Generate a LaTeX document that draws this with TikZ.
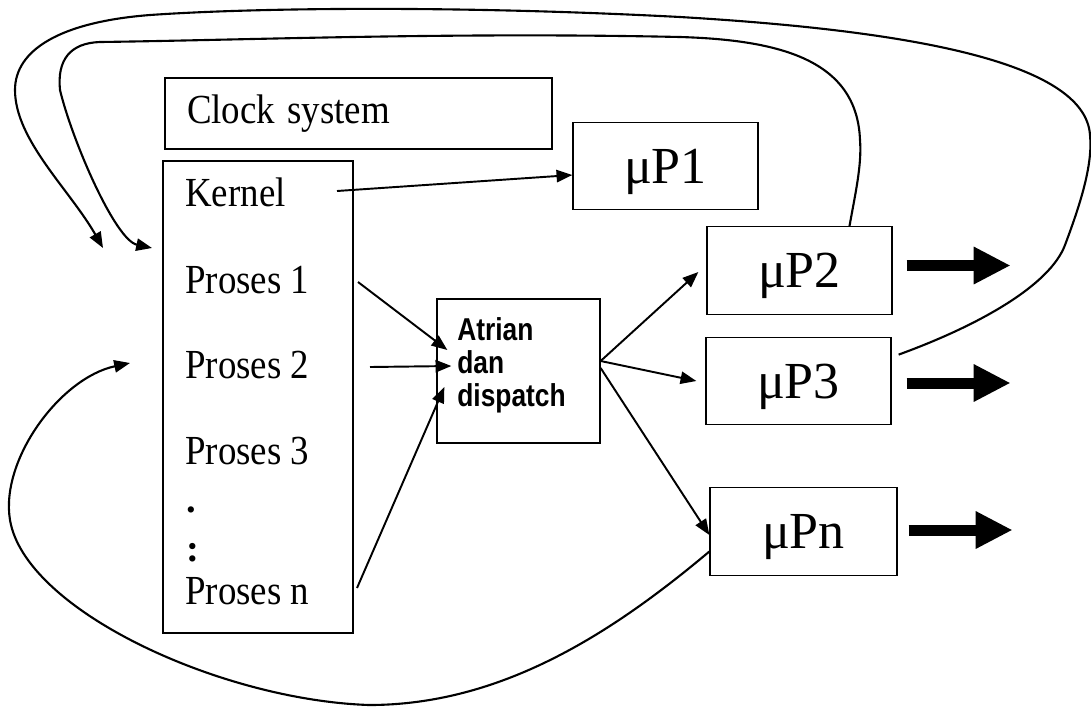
\documentclass[tikz,border=0pt]{standalone}
\usepackage{fontspec}
\setmainfont{Liberation Serif}
\newfontfamily\arialfont{Liberation Sans}
\usetikzlibrary{arrows.meta}
\newcommand{\tall}[1]{\scalebox{1}[1.12]{#1}}
\newcommand{\taller}[1]{\scalebox{1}[1.2]{#1}}
\tikzset{
  box/.style={draw,line width=0.75pt,inner sep=0pt},
  cpu/.style={box,minimum width=3.7cm,minimum height=1.75cm,text depth=0pt,
    font=\fontsize{29.6}{32}\selectfont},
  item/.style={anchor=base west,inner sep=0pt,font=\fontsize{21}{24}\selectfont},
  endtip/.style={-{Triangle[length=9pt,width=7pt]}},
  flow/.style={endtip,line width=1.1pt},
  loopline/.style={line width=1.2pt},
  fat/.style={-{Triangle[length=0.74cm,width=0.7cm]},line width=0.22cm}
}

\begin{document}
\begin{tikzpicture}[x=0.02cm,y=-0.02cm]
\useasboundingbox (0,0) rectangle (1091,707);

% Clock and kernel column
\node[box,text width=6.86cm,inner xsep=0.44cm,minimum height=1.42cm,align=left,
  font=\fontsize{21}{24}\selectfont] (clock) at (358.5,113.5) {\tall{Clock system}};
\node[box,minimum width=3.8cm,minimum height=9.44cm] (os) at (258,397) {};
\node[item] (kernel) at (185,206) {\tall{Kernel}};
\node[item] (p1) at (185,293) {\tall{Proses 1}};
\node[item] (p2) at (185,378) {\tall{Proses 2}};
\node[item] (p3) at (185,464) {\tall{Proses 3}};
\node[item,font=\fontsize{22}{24}\selectfont\bfseries] (dot) at (186,512) {.};
\node[item,font=\fontsize{22}{24}\selectfont\bfseries] (dots) at (186,561) {:};
\node[item] (pn) at (185,604) {\tall{Proses n}};

% Scheduler
\node[box,minimum width=3.26cm,minimum height=2.88cm] (sched) at (518.5,371) {};
\node[anchor=north west,align=left,inner sep=0pt,
  font=\arialfont\bfseries\fontsize{15}{18.8}\selectfont] (schedtxt) at (457,317)
  {\taller{Atrian}\\\taller{dan}\\\taller{dispatch}};

% Processors
\node[cpu] (mp1) at (665.5,166) {μP1};
\node[cpu] (mp2) at (799.5,270.5) {μP2};
\node[cpu] (mp3) at (798.5,381) {μP3};
\node[cpu,minimum width=3.74cm] (mpn) at (803.5,531.5) {μPn};

% Free ends
\coordinate (k0) at (337,191);
\coordinate (s1) at (358,282);
\coordinate (s2) at (370,367);
\coordinate (sn) at (357,588);
\coordinate (fb1) at (103,248);
\coordinate (fb2) at (152,248);
\coordinate (fb3) at (130,363);

% Process flow
\draw[flow] (k0) -- ([yshift=-0.18cm]mp1.west);
\draw[flow] (s1) -- ([xshift=0.22cm,yshift=0.42cm]sched.west);
\draw[flow] (s2) -- ([xshift=0.3cm,yshift=0.1cm]sched.west);
\draw[flow] (sn) -- ([xshift=0.16cm,yshift=-0.32cm]sched.west);
\draw[flow] ([yshift=0.2cm]sched.east) -- ([xshift=-0.16cm,yshift=-0.03cm]mp2.west);
\draw[flow] ([yshift=0.2cm]sched.east) -- ([xshift=-0.18cm]mp3.west);
\draw[flow] ([yshift=0.06cm]sched.east) -- ([yshift=-0.07cm]mpn.west);

% Outputs
\draw[fat] ([xshift=0.28cm,yshift=0.1cm]mp2.east) -- ++(104,0);
\draw[fat] ([xshift=0.3cm,yshift=-0.04cm]mp3.east) -- ++(104,0);
\draw[fat] ([xshift=0.22cm,yshift=0.03cm]mpn.east) -- ++(104,0);

% Feedback loops
\draw[loopline,endtip] ([xshift=0.14cm,yshift=-0.36cm]mp3.north east)
  .. controls (980,325) and (1050,285) .. (1065,245)
  .. controls (1080,205) and (1093,165) .. (1090,135)
  .. controls (1085,60) and (900,30) .. (680,17)
  .. controls (450,5) and (250,8) .. (150,15)
  .. controls (60,22) and (15,50) .. (15,90)
  .. controls (15,140) and (70,190) .. (fb1);
\draw[loopline,endtip] ([xshift=1cm]mp2.north)
  .. controls (855,195) and (862,165) .. (860,140)
  .. controls (857,60) and (780,40) .. (680,37)
  .. controls (450,32) and (250,40) .. (100,42)
  .. controls (70,43) and (57,60) .. (60,90)
  .. controls (72,140) and (115,240) .. (fb2);
\draw[loopline,endtip] ([yshift=-0.4cm]mpn.west)
  .. controls (610,635) and (500,705) .. (369,705)
  .. controls (220,700) and (25,610) .. (10,520)
  .. controls (0,460) and (60,378) .. (fb3);

\end{tikzpicture}
\end{document}
